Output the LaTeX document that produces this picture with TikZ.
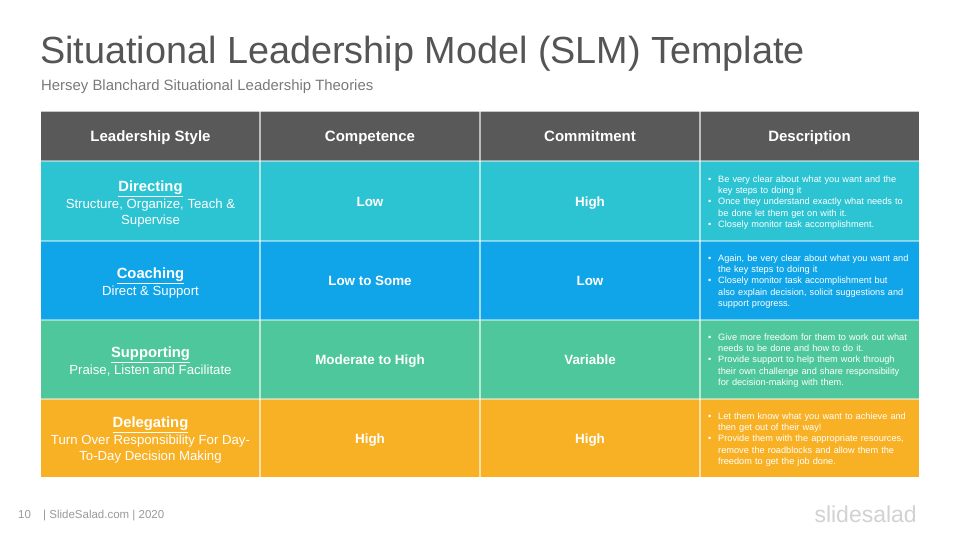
\documentclass[tikz,border=0pt]{standalone}
\usepackage{fontspec}
\setmainfont{Liberation Sans}
\definecolor{hdr}{HTML}{595959}
\definecolor{rowA}{HTML}{2CC3D2}
\definecolor{rowB}{HTML}{10A5E8}
\definecolor{rowC}{HTML}{4EC79C}
\definecolor{rowD}{HTML}{F8B124}
\definecolor{titlec}{HTML}{555555}
\definecolor{subc}{HTML}{7A7A7A}
\definecolor{footc}{HTML}{9A9A9A}
\definecolor{logoc}{HTML}{D2D2D2}
\tikzset{
  hdrtext/.style={text=white,font=\bfseries\fontsize{15}{18}\selectfont,inner sep=0pt,anchor=base},
  midtext/.style={text=white,font=\bfseries\fontsize{13.4}{17}\selectfont,inner sep=0pt,anchor=base},
  styletext/.style={text=white,font=\fontsize{13.2}{16}\selectfont,inner sep=0pt,anchor=center,align=center},
  desctext/.style={text=white,font=\fontsize{9.2}{11.4}\selectfont,inner sep=0pt,anchor=west,text width=205pt,align=left},
  sepline/.style={white,opacity=0.45,line width=1.6pt}
}
\newcommand{\bul}{\makebox[10pt][l]{\textbullet}}
\newcommand{\ind}{\hspace*{10pt}}
\newcommand{\sname}[1]{{\fontsize{14.8}{18}\selectfont\bfseries\underline{#1}}}
\begin{document}
\begin{tikzpicture}[x=1pt,y=-1pt]
\useasboundingbox[fill=white] (0,0) rectangle (960,540);
% title
\node[anchor=base west,inner sep=0pt,text=titlec,font=\fontsize{37.8}{42}\selectfont] (title) at (40,64) {Situational Leadership Model (SLM) Template};
\node[anchor=base west,inner sep=0pt,text=subc,font=\fontsize{14.9}{17}\selectfont] (sub) at (41,91) {Hersey Blanchard Situational Leadership Theories};
% table backgrounds
\fill[hdr] (41,111) rectangle (919,161);
\fill[rowA] (41,161) rectangle (919,241);
\fill[rowB] (41,241) rectangle (919,320);
\fill[rowC] (41,320) rectangle (919,399);
\fill[rowD] (41,399) rectangle (919,477);
\draw[gray!45,line width=1pt] (41,111.5) -- (919,111.5);
% separators
\foreach \yy in {161,241,320,399} {\draw[sepline] (41,\yy) -- (919,\yy);}
\foreach \xx in {260,480,700} {\draw[sepline,opacity=0.6] (\xx,111) -- (\xx,477);}
% header
\node[hdrtext] (h1) at (150.5,141.5) {Leadership Style};
\node[hdrtext] (h2) at (370,141.5) {Competence};
\node[hdrtext] (h3) at (590,141.5) {Commitment};
\node[hdrtext] (h4) at (809.5,141.5) {Description};
% row 1
\node[styletext] (s1) at (150.5,204) {\sname{Directing}\\[1pt]Structure, Organize, Teach \&\\Supervise};
\node[midtext] (c1) at (370,206) {Low};
\node[midtext] (m1) at (590,206) {High};
\node[desctext] (d1) at (708,202.5) {\bul Be very clear about what you want and the\\
\ind key steps to doing it\\
\bul Once they understand exactly what needs to\\
\ind be done let them get on with it.\\
\bul Closely monitor task accomplishment.};
% row 2
\node[styletext] (s2) at (150.5,283.5) {\sname{Coaching}\\[1pt]Direct \& Support};
\node[midtext] (c2) at (370,285) {Low to Some};
\node[midtext] (m2) at (590,285) {Low};
\node[desctext] (d2) at (708,281.5) {\bul Again, be very clear about what you want and\\
\ind the key steps to doing it\\
\bul Closely monitor task accomplishment but\\
\ind also explain decision, solicit suggestions and\\
\ind support progress.};
% row 3
\node[styletext] (s3) at (150.5,361.5) {\sname{Supporting}\\[1pt]Praise, Listen and Facilitate};
\node[midtext] (c3) at (370,364) {Moderate to High};
\node[midtext] (m3) at (590,364) {Variable};
\node[desctext] (d3) at (708,360.5) {\bul Give more freedom for them to work out what\\
\ind needs to be done and how to do it.\\
\bul Provide support to help them work through\\
\ind their own challenge and share responsibility\\
\ind for decision-making with them.};
% row 4
\node[styletext] (s4) at (150.5,440.5) {\sname{Delegating}\\[1pt]Turn Over Responsibility For Day-\\To-Day Decision Making};
\node[midtext] (c4) at (370,443) {High};
\node[midtext] (m4) at (590,443) {High};
\node[desctext] (d4) at (708,439.5) {\bul Let them know what you want to achieve and\\
\ind then get out of their way!\\
\bul Provide them with the appropriate resources,\\
\ind remove the roadblocks and allow them the\\
\ind freedom to get the job done.};
% footer
\node[anchor=base west,inner sep=0pt,text=footc,font=\fontsize{11.5}{13}\selectfont] (pg) at (18,518) {10};
\node[anchor=base west,inner sep=0pt,text=footc,font=\fontsize{11.5}{13}\selectfont] (foot) at (43,518) {| SlideSalad.com | 2020};
\node[anchor=base east,inner sep=0pt,text=logoc,font=\fontsize{23}{26}\selectfont] (logo) at (917,522) {slidesalad};
\end{tikzpicture}
\end{document}
